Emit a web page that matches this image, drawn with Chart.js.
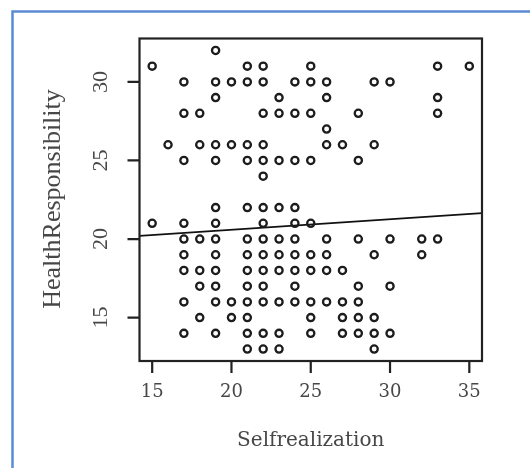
<!DOCTYPE html>
<html lang="en">
<head>
  <meta charset="UTF-8">
  <title>Selfrealization vs HealthResponsibility</title>
  <script src="https://cdn.jsdelivr.net/npm/chart.js"></script>
  <style>
    body {
      margin: 0;
      background: #fff;
    }
    #chart-container {
      width: 530px;
      height: 468px;
      position: relative;
    }
  </style>
</head>
<body>
<div id="chart-container">
  <canvas id="chart"></canvas>
</div>

<script>
// Selfrealization (x) and HealthResponsibility (y), one row per y level
const selfX = [
  19,
  15, 21, 22, 25, 33, 35,
  17, 19, 20, 21, 22, 24, 25, 26, 29, 30,
  19, 23, 26, 33,
  17, 18, 22, 23, 24, 25, 28, 33,
  26,
  16, 18, 19, 20, 21, 22, 26, 27, 29,
  17, 19, 21, 22, 23, 24, 25, 28,
  22,
  19, 21, 22, 23, 24,
  15, 17, 19, 22, 24, 25,
  17, 18, 19, 21, 22, 23, 24, 26, 28, 30, 32, 33,
  17, 19, 21, 22, 23, 24, 25, 26, 29, 32,
  17, 18, 19, 21, 22, 23, 24, 25, 26, 27,
  18, 19, 21, 22, 24, 28, 30,
  17, 19, 20, 21, 22, 23, 24, 25, 26, 27, 28,
  18, 20, 21, 25, 27, 28, 29,
  17, 19, 21, 22, 23, 25, 27, 28, 29, 30,
  21, 22, 23, 29
];
const healthY = [
  32,
  31, 31, 31, 31, 31, 31,
  30, 30, 30, 30, 30, 30, 30, 30, 30, 30,
  29, 29, 29, 29,
  28, 28, 28, 28, 28, 28, 28, 28,
  27,
  26, 26, 26, 26, 26, 26, 26, 26, 26,
  25, 25, 25, 25, 25, 25, 25, 25,
  24,
  22, 22, 22, 22, 22,
  21, 21, 21, 21, 21, 21,
  20, 20, 20, 20, 20, 20, 20, 20, 20, 20, 20, 20,
  19, 19, 19, 19, 19, 19, 19, 19, 19, 19,
  18, 18, 18, 18, 18, 18, 18, 18, 18, 18,
  17, 17, 17, 17, 17, 17, 17,
  16, 16, 16, 16, 16, 16, 16, 16, 16, 16, 16,
  15, 15, 15, 15, 15, 15, 15,
  14, 14, 14, 14, 14, 14, 14, 14, 14, 14,
  13, 13, 13, 13
];

// fitted line, end points read at the plot edges
const fitX = [14.2, 35.8];
const fitY = [20.2, 21.65];

const xTicks = [15, 20, 25, 30, 35];
const yTicks = [15, 20, 25, 30];
const xTitle = 'Selfrealization';
const yTitle = 'HealthResponsibility';

// R style box, ticks and labels drawn from the chart's scales
const rAxes = {
  id: 'rAxes',
  afterDraw(chart) {
    const ctx = chart.ctx;
    const a = chart.chartArea;
    const xs = chart.scales.x;
    const ys = chart.scales.y;
    ctx.save();

    // outer light blue frame
    ctx.strokeStyle = '#5b8cd2';
    ctx.lineWidth = 2.5;
    ctx.beginPath();
    ctx.moveTo(12.5, 468);
    ctx.lineTo(12.5, 11.5);
    ctx.lineTo(530, 11.5);
    ctx.stroke();

    // plot box
    ctx.strokeStyle = '#222';
    ctx.lineWidth = 2.2;
    ctx.strokeRect(a.left, a.top, a.right - a.left, a.bottom - a.top);

    // tick marks
    ctx.beginPath();
    xTicks.forEach(v => {
      const px = xs.getPixelForValue(v);
      ctx.moveTo(px, a.bottom);
      ctx.lineTo(px, a.bottom + 12);
    });
    yTicks.forEach(v => {
      const py = ys.getPixelForValue(v);
      ctx.moveTo(a.left, py);
      ctx.lineTo(a.left - 12, py);
    });
    ctx.stroke();

    ctx.fillStyle = '#474747';
    ctx.textAlign = 'center';
    ctx.textBaseline = 'middle';

    // x tick labels
    ctx.font = '18px "DejaVu Serif"';
    xTicks.forEach(v => {
      ctx.fillText(String(v), xs.getPixelForValue(v), a.bottom + 31);
    });

    // x title
    ctx.font = '20px "DejaVu Serif"';
    ctx.fillText(xTitle, (xs.getPixelForValue(xTicks[0]) + xs.getPixelForValue(xTicks[4])) / 2, 441);

    // y tick labels, rotated like R
    ctx.font = '22px "Liberation Serif"';
    yTicks.forEach(v => {
      ctx.save();
      ctx.translate(101.5, ys.getPixelForValue(v));
      ctx.rotate(-Math.PI / 2);
      ctx.fillText(String(v), 0, 0);
      ctx.restore();
    });

    // y title
    ctx.font = '26px "Liberation Serif"';
    ctx.save();
    ctx.translate(53, 199);
    ctx.rotate(-Math.PI / 2);
    ctx.fillText(yTitle, 0, 0);
    ctx.restore();

    ctx.restore();
  }
};

const points = selfX.map((x, i) => ({ x: x, y: healthY[i] }));
const fitLine = fitX.map((x, i) => ({ x: x, y: fitY[i] }));

const ctx = document.getElementById('chart').getContext('2d');
const chart = new Chart(ctx, {
  type: 'scatter',
  data: {
    datasets: [
      {
        label: 'points',
        data: points,
        pointStyle: 'circle',
        pointRadius: 3.6,
        pointBorderWidth: 2.3,
        borderColor: '#1c1c1c',
        backgroundColor: 'rgba(0,0,0,0)'
      },
      {
        type: 'line',
        label: 'fit',
        data: fitLine,
        borderColor: '#111',
        borderWidth: 1.8,
        pointRadius: 0,
        fill: false
      }
    ]
  },
  options: {
    responsive: true,
    maintainAspectRatio: false,
    animation: false,
    events: [],
    layout: {
      padding: { left: 139.5, top: 38.5, right: 48, bottom: 107 }
    },
    plugins: {
      legend: { display: false },
      tooltip: { enabled: false }
    },
    scales: {
      x: { type: 'linear', min: 14.2, max: 35.8, display: false },
      y: { type: 'linear', min: 12.24, max: 32.76, display: false }
    }
  },
  plugins: [rAxes]
});
</script>

</body>
</html>
